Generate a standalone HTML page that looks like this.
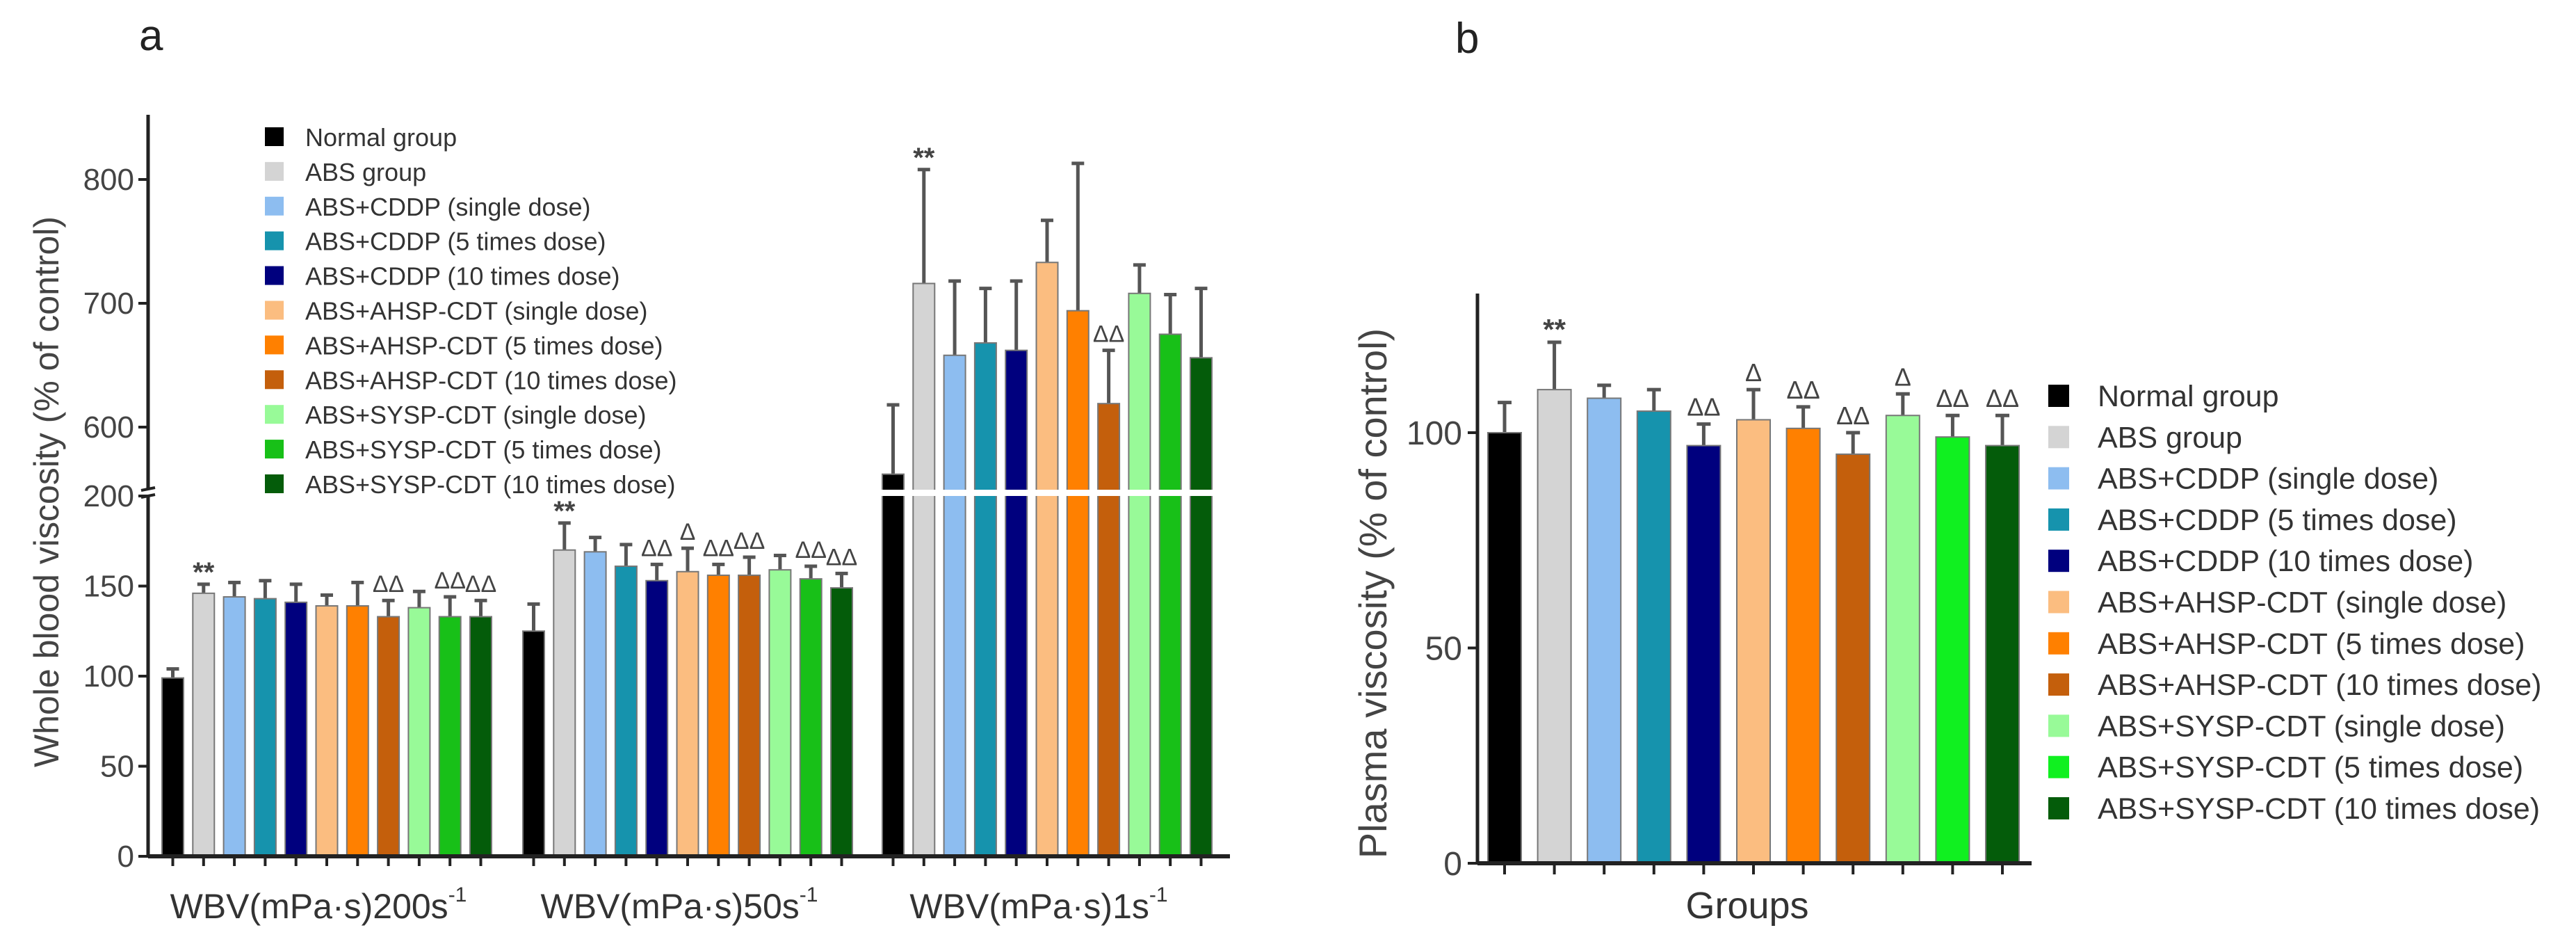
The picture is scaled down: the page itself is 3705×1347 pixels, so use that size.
<!DOCTYPE html>
<html><head><meta charset="utf-8">
<style>
html,body{margin:0;padding:0;background:#fff;}
svg{display:block;font-family:"Liberation Sans",Arial,sans-serif;}
</style></head>
<body>
<svg id="fig" width="3705" height="1347" viewBox="0 0 3705 1347" xmlns="http://www.w3.org/2000/svg">
<rect width="3705" height="1347" fill="#fff"/>
<text x="200" y="72" font-size="62" fill="#222">a</text>
<text x="2093" y="76" font-size="62" fill="#222">b</text>
<g id="pa"></g>
<g id="pb"></g>
</svg>
<script>
const groupNames = ["Normal group","ABS group","ABS+CDDP (single dose)","ABS+CDDP (5 times dose)","ABS+CDDP (10 times dose)","ABS+AHSP-CDT (single dose)","ABS+AHSP-CDT (5 times dose)","ABS+AHSP-CDT (10 times dose)","ABS+SYSP-CDT (single dose)","ABS+SYSP-CDT (5 times dose)","ABS+SYSP-CDT (10 times dose)"];
const categoriesA = ["WBV(mPa·s)200s","WBV(mPa·s)50s","WBV(mPa·s)1s"];
const wbv200 = [99,146,144,143,141,139,139,133,138,133,133];
const wbv200Err = [104,151,152,153,151,145,152,142,147,144,142];
const wbv50 = [125,170,169,161,153,158,156,156,159,154,149];
const wbv50Err = [140,185,177,173,162,171,162,166,167,161,157];
const wbv1 = [562,716,658,668,662,733,694,619,708,675,656];
const wbv1Err = [618,808,718,712,718,767,813,662,731,707,712];
const marksA200 = ["","**","","","","","","ΔΔ","","ΔΔ","ΔΔ"];
const marksA50 = ["","**","","","ΔΔ","Δ","ΔΔ","ΔΔ","","ΔΔ","ΔΔ"];
const marksA1 = ["","**","","","","","","ΔΔ","","",""];
const ticksLowA = [0,50,100,150,200];
const ticksHighA = [600,700,800];
const plasma = [100,110,108,105,97,103,101,95,104,99,97];
const plasmaErr = [107,121,111,110,102,110,106,100,109,104,104];
const marksB = ["","**","","","ΔΔ","Δ","ΔΔ","ΔΔ","Δ","ΔΔ","ΔΔ"];
const ticksB = [0,50,100];

const colorsA = ["#000000","#d4d4d4","#8dbdf0","#1693ad","#00007e","#fbbd80","#ff8000","#c45f0c","#98fa98","#18c018","#045c0a"];
const colorsB = ["#000000","#d4d4d4","#8dbdf0","#1693ad","#00007e","#fbbd80","#ff8000","#c45f0c","#98fa98","#10f020","#045c0a"];
const NS="http://www.w3.org/2000/svg";
function mk(parent,tag,attrs,text){const e=document.createElementNS(NS,tag);for(const k in attrs)e.setAttribute(k,attrs[k]);if(text!==undefined)e.textContent=text;parent.appendChild(e);return e;}

// ---- Panel A ----
const pa=document.getElementById('pa');
const A={x0:213,x1:1769,zeroY:1231,lowTopY:713,lowMax:200,highBaseY:703,highBaseV:550,highPx:1.78,top:165};
function yLow(v){return A.zeroY-(Math.min(v,A.lowMax))*(A.zeroY-A.lowTopY)/A.lowMax;}
function yHigh(v){return A.highBaseY-(v-A.highBaseV)*A.highPx;}
function yA(v){return v<=A.lowMax?yLow(v):yHigh(v);}
const groupStartA=[233,752,1269], stepA=44.3, bwA=31;
function xA(g,i){return groupStartA[g]+i*stepA;}
const seriesA=[[wbv200,wbv200Err,marksA200],[wbv50,wbv50Err,marksA50],[wbv1,wbv1Err,marksA1]];
seriesA.forEach((s,g)=>{
  const [vals,errs,marks]=s;
  vals.forEach((v,i)=>{
    const x=xA(g,i), cx=x+bwA/2;
    const ey=yA(errs[i]), ty=yA(v);
    const el=mk(pa,'line',{x1:cx,x2:cx,y1:ey,y2:ty,stroke:'#555','stroke-width':5});
    
    
    const cap=mk(pa,'line',{x1:cx-9,x2:cx+9,y1:ey,y2:ey,stroke:'#555','stroke-width':5});
    
    
    const r=mk(pa,'rect',{x:x,y:ty,width:bwA,height:A.zeroY-ty,fill:colorsA[i],stroke:'#777','stroke-width':2});
    
    
    if(marks[i]){
      const star=marks[i]==='**';
      const t=mk(pa,'text',{x:cx,y:star?ey-4:ey-12,'font-size':star?40:34,'font-weight':star?'bold':'normal','text-anchor':'middle',fill:'#444'},marks[i]);
      
      
    }
    const tk=mk(pa,'line',{x1:cx,x2:cx,y1:A.zeroY,y2:A.zeroY+14,stroke:'#222','stroke-width':4});
    
    
  });
});
const gap=mk(pa,'rect',{x:215,y:A.highBaseY+1,width:A.x1-215,height:A.lowTopY-A.highBaseY-1,fill:'#fff'});


const yax1=mk(pa,'line',{x1:A.x0,x2:A.x0,y1:A.top,y2:A.highBaseY,stroke:'#222','stroke-width':5});


const yax2=mk(pa,'line',{x1:A.x0,x2:A.x0,y1:A.lowTopY,y2:A.zeroY+2,stroke:'#222','stroke-width':5});


const bk1=mk(pa,'line',{x1:A.x0-10,x2:A.x0+10,y1:A.highBaseY+2,y2:A.highBaseY-2,stroke:'#222','stroke-width':4});


const bk2=mk(pa,'line',{x1:A.x0-10,x2:A.x0+10,y1:A.lowTopY+2,y2:A.lowTopY-2,stroke:'#222','stroke-width':4});


const xax=mk(pa,'line',{x1:A.x0,x2:A.x1,y1:A.zeroY,y2:A.zeroY,stroke:'#222','stroke-width':6});


ticksLowA.concat(ticksHighA).forEach(v=>{
  const y=yA(v);
  const tl=mk(pa,'line',{x1:A.x0-14,x2:A.x0,y1:y,y2:y,stroke:'#222','stroke-width':4});
  
  
  const tt=mk(pa,'text',{x:A.x0-20,y:y+15,'font-size':44,'text-anchor':'end',fill:'#444'},String(v));
  
  
});
categoriesA.forEach((c,g)=>{
  const cx=xA(g,5)+bwA/2;
  const t=mk(pa,'text',{x:cx-12,y:1320,'font-size':50,'text-anchor':'middle',fill:'#333'},c);
  
  
  mk(t,'tspan',{'font-size':30,dy:-24},'-1');
});
const yta=mk(pa,'text',{x:0,y:0,'font-size':50,'text-anchor':'middle',fill:'#444',transform:'translate(84,707) rotate(-90)'},'Whole blood viscosity (% of control)');


groupNames.forEach((n,i)=>{
  const y=198+i*49.9;
  const g=mk(pa,'g',{});
  
  
  mk(g,'rect',{x:381,y:y-15,width:27,height:27,fill:colorsA[i]});
  mk(g,'text',{x:439,y:y+12,'font-size':36,fill:'#333'},n);
});

// ---- Panel B ----
const pb=document.getElementById('pb');
const B={x0:2125,x1:2922,zeroY:1241,top:422,px:6.19};
function yB(v){return B.zeroY-v*B.px;}
const stepB=71.6, bwB=48;
function xB(i){return 2140+i*stepB;}
plasma.forEach((v,i)=>{
  const x=xB(i), cx=x+bwB/2, ey=yB(plasmaErr[i]), ty=yB(v);
  const el=mk(pb,'line',{x1:cx,x2:cx,y1:ey,y2:ty,stroke:'#555','stroke-width':5});
  
  
  const cap=mk(pb,'line',{x1:cx-10,x2:cx+10,y1:ey,y2:ey,stroke:'#555','stroke-width':5});
  
  
  const r=mk(pb,'rect',{x:x,y:ty,width:bwB,height:B.zeroY-ty,fill:colorsB[i],stroke:'#777','stroke-width':2});
  
  
  if(marksB[i]){
    const star=marksB[i]==='**';
    const t=mk(pb,'text',{x:cx,y:star?ey-4:ey-12,'font-size':star?42:36,'font-weight':star?'bold':'normal','text-anchor':'middle',fill:'#444'},marksB[i]);
    
    
  }
  const tk=mk(pb,'line',{x1:cx,x2:cx,y1:B.zeroY,y2:B.zeroY+16,stroke:'#222','stroke-width':4});
  
  
});
const ybx=mk(pb,'line',{x1:B.x0,x2:B.x0,y1:B.top,y2:B.zeroY+2,stroke:'#222','stroke-width':5});


const xbx=mk(pb,'line',{x1:B.x0,x2:B.x1,y1:B.zeroY,y2:B.zeroY,stroke:'#222','stroke-width':6});


ticksB.forEach(v=>{
  const y=yB(v);
  const tl=mk(pb,'line',{x1:B.x0-14,x2:B.x0,y1:y,y2:y,stroke:'#222','stroke-width':4});
  
  
  const tt=mk(pb,'text',{x:B.x0-22,y:y+17,'font-size':48,'text-anchor':'end',fill:'#444'},String(v));
  
  
});
const ytb=mk(pb,'text',{x:0,y:0,'font-size':56,'text-anchor':'middle',fill:'#444',transform:'translate(1994,853) rotate(-90)'},'Plasma viscosity (% of control)');


const xtb=mk(pb,'text',{x:2513,y:1320,'font-size':54,'text-anchor':'middle',fill:'#333'},'Groups');


groupNames.forEach((n,i)=>{
  const y=569+i*59.3;
  const g=mk(pb,'g',{});
  
  
  mk(g,'rect',{x:2946,y:y-16,width:30,height:32,fill:colorsB[i]});
  mk(g,'text',{x:3017,y:y+15,'font-size':43,fill:'#333'},n);
});
</script>
</body></html>
